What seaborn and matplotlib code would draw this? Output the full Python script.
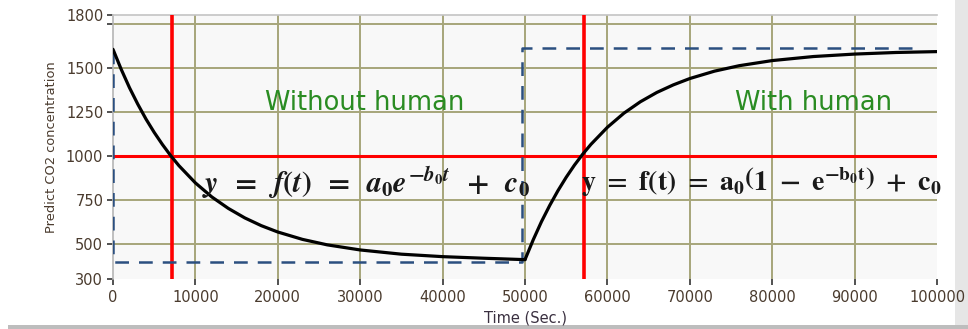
import matplotlib
matplotlib.use("Agg")
import matplotlib.pyplot as plt
import seaborn as sns
import pandas as pd
from matplotlib.patches import Rectangle

# ---- data ----
t_fall = [0, 1000, 2000, 3000, 4000, 5000, 6000, 7000, 8000, 10000, 12000, 14000,
          16000, 18000, 20000, 23000, 26000, 30000, 35000, 40000, 45000, 50000]
y_fall = [1605, 1491, 1387, 1294, 1209, 1133, 1064, 1001, 944, 846, 766, 701,
          647, 603, 567, 525, 494, 465, 441, 427, 418, 410]
t_rise = [50000, 51000, 52000, 53000, 54000, 55000, 56000, 57000, 58000, 60000, 62000,
          64000, 66000, 68000, 70000, 73000, 76000, 80000, 85000, 90000, 95000, 100000]
y_rise = [410, 523, 626, 718, 802, 878, 947, 1009, 1065, 1162, 1242,
          1307, 1360, 1403, 1439, 1481, 1512, 1541, 1564, 1578, 1587, 1592]
t_step = [0, 0, 49600, 49600, 97700]
y_step = [1600, 395, 395, 1612, 1612]
ref_times = [7200, 57200]
ref_level = 1000
x_ticks = [0, 10000, 20000, 30000, 40000, 50000, 60000, 70000, 80000, 90000, 100000]
y_ticks = [300, 500, 750, 1000, 1250, 1500, 1750, 1800]
y_tick_labels = ["300", "500", "750", "1000", "1250", "1500", "", "1800"]
x_grid = [10000, 20000, 30000, 40000, 50000, 60000, 70000, 80000, 90000]
y_grid = [500, 750, 1000, 1250, 1500, 1750]
region_labels = ["Without human", "With human"]

sns.set_theme(style="white")
plt.rcParams["font.family"] = ["DejaVu Sans"]
plt.rcParams["mathtext.fontset"] = "custom"
plt.rcParams["mathtext.it"] = "STIXGeneral:italic:bold"
plt.rcParams["mathtext.rm"] = "STIXGeneral:bold"
plt.rcParams["mathtext.bf"] = "STIXGeneral:bold"

fig = plt.figure(figsize=(9.68, 3.29), dpi=100)
fig.patch.set_facecolor("white")

# frame decoration of the screenshot (behind everything)
fig.patches.append(Rectangle((8 / 968, 0), 1, 4 / 329, transform=fig.transFigure,
                             facecolor="#BDBDBD", edgecolor="none", zorder=-5))
fig.patches.append(Rectangle((955 / 968, 4 / 329), 13 / 968, 1, transform=fig.transFigure,
                             facecolor="#E6E6E6", edgecolor="none", zorder=-5))

ax = fig.add_axes([113 / 968, 1 - 279 / 329, (937 - 113) / 968, (279 - 15) / 329])
ax.set_facecolor("#F8F8F8")

# grid
for gx in x_grid:
    ax.axvline(gx, color="#A6A57A", lw=1.4, zorder=1)
for gy in y_grid:
    ax.axhline(gy, color="#A6A57A", lw=1.4, zorder=1)

# red reference lines
for rt in ref_times:
    ax.axvline(rt, color="#FF0000", lw=2.6, zorder=3)
ax.axhline(ref_level, color="#FF0000", lw=2.2, zorder=3)

# step input (dashed)
df_step = pd.DataFrame({"t": t_step, "y": y_step})
ax.plot(df_step["t"], df_step["y"], color="#2B4F80", lw=1.8, dashes=(5.5, 4), zorder=4)

# response curves
df_fall = pd.DataFrame({"t": t_fall, "y": y_fall})
df_rise = pd.DataFrame({"t": t_rise, "y": y_rise})
sns.lineplot(data=df_fall, x="t", y="y", ax=ax, color="black", lw=2.3, zorder=5, sort=False)
sns.lineplot(data=df_rise, x="t", y="y", ax=ax, color="black", lw=2.3, zorder=5, sort=False)

ax.set_xlim(0, 100000)
ax.set_ylim(300, 1800)
ax.set_xticks(x_ticks)
ax.set_xticklabels([str(v) for v in x_ticks])
ax.set_yticks(y_ticks)
ax.set_yticklabels(y_tick_labels)
ax.tick_params(axis="both", which="major", length=4, width=1.2, color="#333333",
               labelsize=10.5, labelcolor="#4A3B2E", pad=3, direction="out",
               bottom=True, left=True)
ax.tick_params(axis="x", pad=4)

for s in ["right", "bottom"]:
    ax.spines[s].set_visible(False)
ax.spines["left"].set_color("#B5B5B5")
ax.spines["left"].set_linewidth(1.2)
ax.spines["top"].set_color("#C4C4C4")
ax.spines["top"].set_linewidth(1.2)

ax.set_xlabel("Time (Sec.)", fontsize=10.5, color="#3A3040", labelpad=4)
ax.set_ylabel("Predict CO2 concentration", fontsize=9.4, color="#4A3B2E", labelpad=6)

# annotations
ax.text(30600, 1300, region_labels[0], fontsize=18.5, color="#2A8C22", ha="center", va="center", zorder=6)
ax.text(85000, 1300, region_labels[1], fontsize=18.5, color="#2A8C22", ha="center", va="center", zorder=6)
ax.text(10800, 850, r"$y\ \,=\ \,f(t)\ \,=\ \,a_0 e^{-b_0 t}\ \,+\ \,c_0$", fontsize=21.5,
        color="#1a1a1a", ha="left", va="center", zorder=6)
ax.text(56800, 850, r"$\mathbf{y\ =\ f(t)\ =\ a_0\left(1\ -\ e^{-b_0 t}\right)\ +\ c_0}$", fontsize=20,
        color="#1a1a1a", ha="left", va="center", zorder=6)

fig.savefig("out.png", dpi=100)
